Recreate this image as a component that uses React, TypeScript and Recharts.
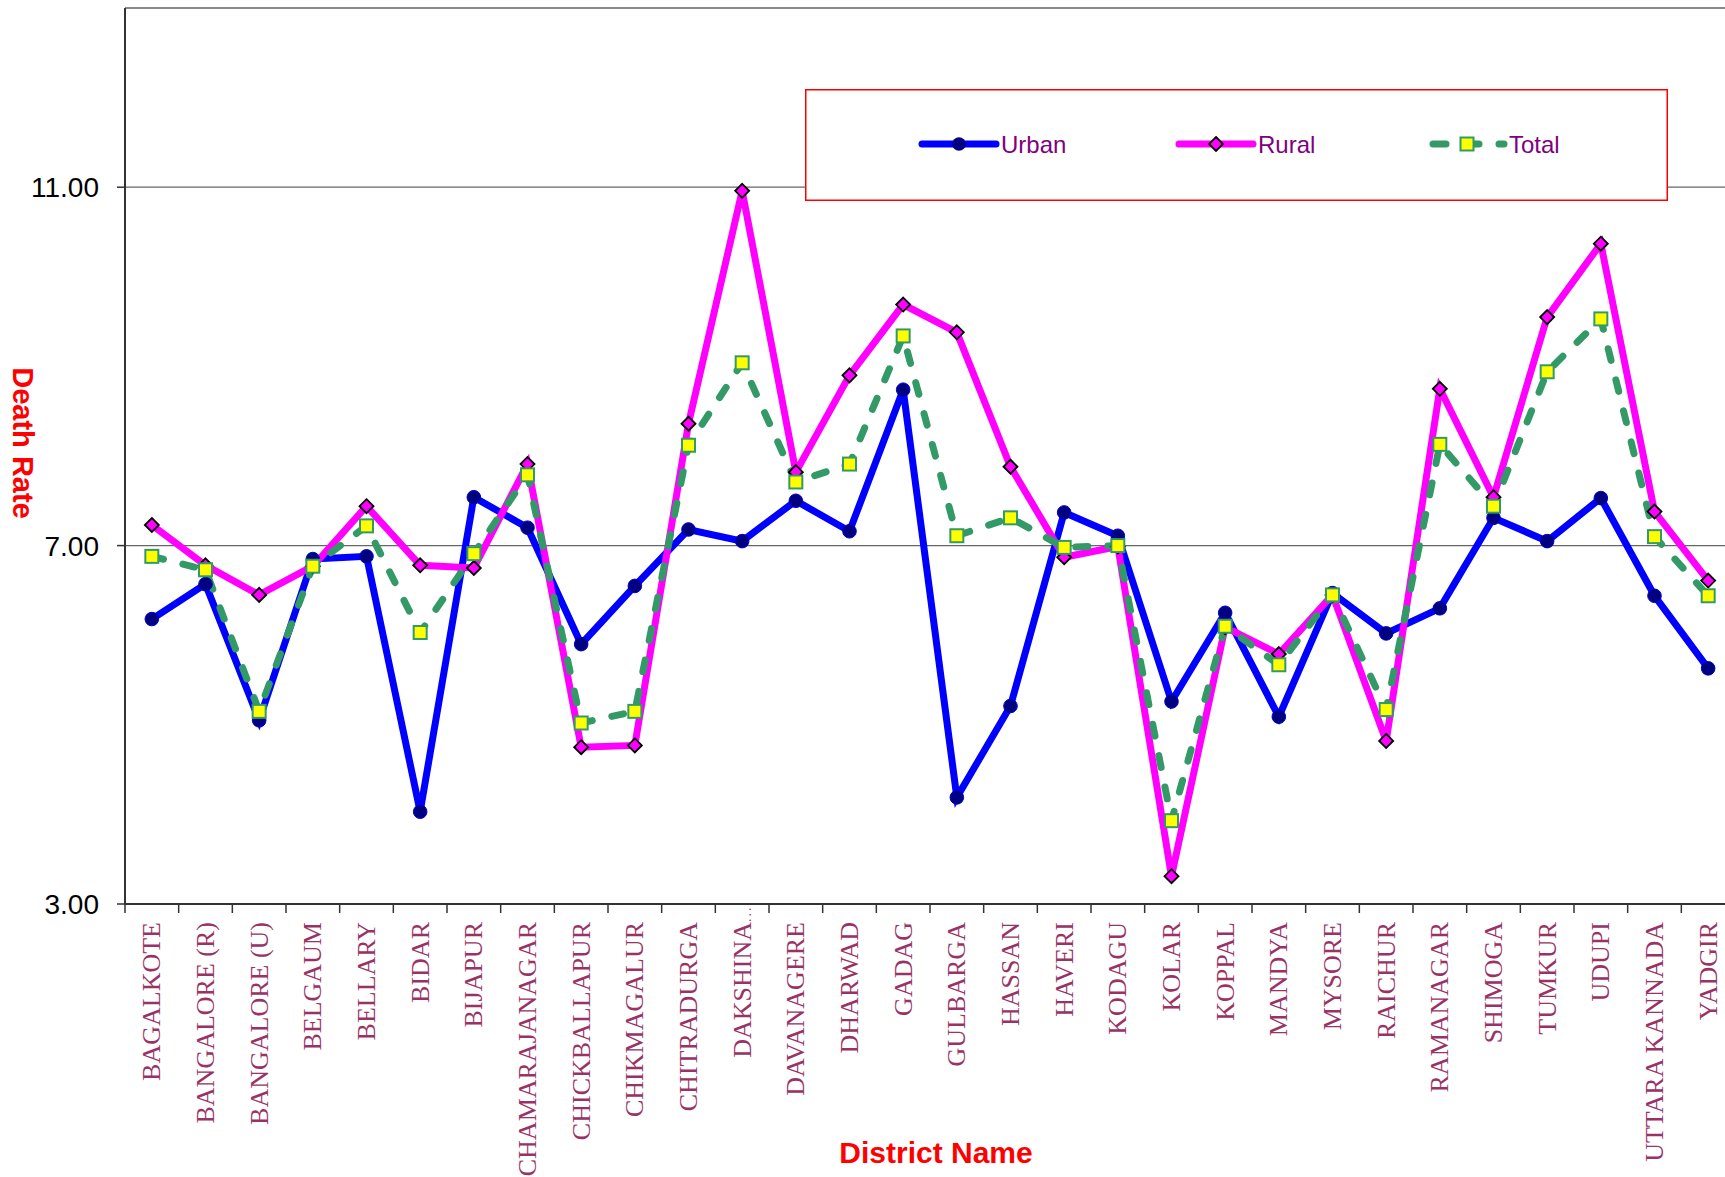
import React from 'react';
import { LineChart, Line, XAxis, YAxis, CartesianGrid, ReferenceLine, Legend } from 'recharts';

// District names on the category axis
const districts = [
  'BAGALKOTE', 'BANGALORE (R)', 'BANGALORE (U)', 'BELGAUM', 'BELLARY', 'BIDAR', 'BIJAPUR',
  'CHAMARAJANAGAR', 'CHICKBALLAPUR', 'CHIKMAGALUR', 'CHITRADURGA', 'DAKSHINA...', 'DAVANAGERE',
  'DHARWAD', 'GADAG', 'GULBARGA', 'HASSAN', 'HAVERI', 'KODAGU', 'KOLAR', 'KOPPAL', 'MANDYA',
  'MYSORE', 'RAICHUR', 'RAMANAGAR', 'SHIMOGA', 'TUMKUR', 'UDUPI', 'UTTARA KANNADA', 'YADGIR',
];

const urban = [
  6.18, 6.57, 5.05, 6.85, 6.88, 4.03, 7.54, 7.2, 5.9, 6.55, 7.18, 7.05, 7.5, 7.16, 8.74,
  4.19, 5.21, 7.37, 7.11, 5.26, 6.25, 5.09, 6.47, 6.02, 6.3, 7.31, 7.05, 7.53, 6.44, 5.63,
];
const rural = [
  7.23, 6.78, 6.45, 6.77, 7.44, 6.78, 6.75, 7.91, 4.75, 4.77, 8.36, 10.96, 7.82, 8.9, 9.69,
  9.38, 7.88, 6.87, 6.99, 3.31, 6.09, 5.79, 6.45, 4.82, 8.75, 7.54, 9.55, 10.37, 7.38, 6.61,
];
const total = [
  6.88, 6.73, 5.15, 6.77, 7.22, 6.03, 6.91, 7.79, 5.02, 5.15, 8.12, 9.04, 7.71, 7.91, 9.34,
  7.11, 7.31, 6.98, 7.0, 3.93, 6.1, 5.67, 6.45, 5.17, 8.13, 7.44, 8.94, 9.53, 7.1, 6.44,
];

const yTicks = [3, 7, 11];

const data = districts.map((name, i) => ({
  name,
  urban: urban[i],
  rural: rural[i],
  total: total[i],
}));

const W = 1740;
const H = 1177;
const margin = { top: 8, right: 5, left: 0, bottom: 0 };
const yAxisWidth = 125;
const band = (W - margin.left - margin.right - yAxisWidth) / districts.length;

const sans = '"Liberation Sans", Arial, sans-serif';
const serif = '"Liberation Serif", "Times New Roman", serif';

const UrbanDot = (p: any) => (
  <circle key={`u-${p.index}`} cx={p.cx} cy={p.cy} r={6.8} fill="#000080" stroke="#0000CC" strokeWidth={1} />
);

const diamond = (cx: number, cy: number) =>
  `${cx},${cy - 7} ${cx + 7},${cy} ${cx},${cy + 7} ${cx - 7},${cy}`;

const RuralDot = (p: any) => (
  <polygon key={`r-${p.index}`} points={diamond(p.cx, p.cy)} fill="#FF00FF" stroke="#000" strokeWidth={1.8} />
);

const TotalDot = (p: any) => (
  <rect key={`t-${p.index}`} x={p.cx - 6.5} y={p.cy - 6.5} width={13} height={13} fill="#FFFF00" stroke="#339966" strokeWidth={2} />
);

const DistrictTick = (props: any) => {
  const { x, y, payload } = props;
  const value: string = payload.value;
  const clipped = value.endsWith('...');
  const main = clipped ? value.slice(0, -3) : value;
  const tx = x + 8.5;
  const ty = y + 9;
  return (
    <g>
      <line x1={x - band / 2} y1={y - 9} x2={x - band / 2} y2={y} stroke="#333" strokeWidth={1.5} />
      <text
        x={tx}
        y={ty}
        transform={`rotate(-90, ${tx}, ${ty})`}
        textAnchor="end"
        fill="#993366"
        fontFamily={serif}
        fontSize={26}
      >
        {main}
      </text>
      {clipped && (
        <text
          x={tx}
          y={ty}
          transform={`rotate(-90, ${tx}, ${ty})`}
          textAnchor="start"
          fill="#993366"
          fontFamily={serif}
          fontSize={14}
          letterSpacing={2}
        >
          ...
        </text>
      )}
    </g>
  );
};

const legendItems = [
  { key: 'urban', label: 'Urban', left: 117 },
  { key: 'rural', label: 'Rural', left: 374 },
  { key: 'total', label: 'Total', left: 625 },
];

const renderLegend = () => (
  <svg width={863} height={112} style={{ display: 'block' }}>
    <rect x={0.75} y={0.75} width={861.5} height={110.5} fill="#fff" stroke="#FF0000" strokeWidth={1.5} />
    {legendItems.map((it) => {
      const cy = 55;
      const mx = it.left + 37;
      return (
        <g key={it.key}>
          {it.key === 'urban' && (
            <>
              <line x1={it.left} y1={cy} x2={it.left + 74} y2={cy} stroke="#0000FF" strokeWidth={7} strokeLinecap="round" />
              <circle cx={mx} cy={cy} r={6.8} fill="#000080" />
            </>
          )}
          {it.key === 'rural' && (
            <>
              <line x1={it.left} y1={cy} x2={it.left + 74} y2={cy} stroke="#FF00FF" strokeWidth={7} strokeLinecap="round" />
              <polygon points={diamond(mx, cy)} fill="#FF00FF" stroke="#000" strokeWidth={1.8} />
            </>
          )}
          {it.key === 'total' && (
            <>
              <line x1={it.left + 3} y1={cy} x2={it.left + 74} y2={cy} stroke="#339966" strokeWidth={7} strokeLinecap="round" strokeDasharray="13 20" />
              <rect x={mx - 6.5} y={cy - 6.5} width={13} height={13} fill="#FFFF00" stroke="#339966" strokeWidth={2} />
            </>
          )}
          <text x={it.left + 79} y={cy + 8.5} fill="#800080" fontFamily={sans} fontSize={24}>
            {it.label}
          </text>
        </g>
      );
    })}
  </svg>
);

export default function App() {
  return (
    <div style={{ position: 'fixed', left: 0, top: 0, width: 1725, height: 1177, overflow: 'hidden', background: '#fff' }}>
      <LineChart width={W} height={H} data={data} margin={margin}>
        <CartesianGrid vertical={false} stroke="#666" strokeWidth={1.2} />
        <ReferenceLine y={13} stroke="#888" strokeWidth={2} />
        <XAxis
          dataKey="name"
          interval={0}
          padding={{ left: band / 2, right: band / 2 }}
          height={H - 904 - margin.bottom}
          tickLine={false}
          tickSize={9}
          tickMargin={0}
          axisLine={{ stroke: '#333', strokeWidth: 2 }}
          tick={<DistrictTick />}
          label={{
            content: (p: any) => (
              <text
                x={p.viewBox.x + p.viewBox.width / 2 + 6}
                y={p.viewBox.y + 259}
                textAnchor="middle"
                fill="#FF0000"
                fontFamily={sans}
                fontWeight="bold"
                fontSize={30}
              >
                District Name
              </text>
            ),
          }}
        />
        <YAxis
          width={yAxisWidth}
          domain={[3, 13]}
          ticks={yTicks}
          allowDataOverflow
          tickFormatter={(v: number) => v.toFixed(2)}
          tickSize={8}
          tickMargin={18}
          tick={{ fill: '#000', fontSize: 28, fontFamily: sans }}
          tickLine={{ stroke: '#333', strokeWidth: 1.5 }}
          axisLine={{ stroke: '#333', strokeWidth: 2 }}
          label={{
            content: () => (
              <text
                x={13}
                y={443}
                transform="rotate(90, 13, 443)"
                textAnchor="middle"
                fill="#FF0000"
                fontFamily={sans}
                fontWeight="bold"
                fontSize={29}
              >
                Death Rate
              </text>
            ),
          }}
        />
        <Legend
          layout="horizontal"
          verticalAlign="middle"
          align="center"
          content={renderLegend}
          wrapperStyle={{ left: 805, top: 89, width: 863, height: 112 }}
        />
        <Line
          dataKey="urban"
          name="Urban"
          stroke="#0000FF"
          strokeWidth={7}
          dot={UrbanDot}
          activeDot={false}
          isAnimationActive={false}
        />
        <Line
          dataKey="rural"
          name="Rural"
          stroke="#FF00FF"
          strokeWidth={7}
          dot={RuralDot}
          activeDot={false}
          isAnimationActive={false}
        />
        <Line
          dataKey="total"
          name="Total"
          stroke="#339966"
          strokeWidth={7}
          strokeDasharray="12 20"
          strokeLinecap="round"
          dot={TotalDot}
          activeDot={false}
          isAnimationActive={false}
        />
      </LineChart>
    </div>
  );
}
